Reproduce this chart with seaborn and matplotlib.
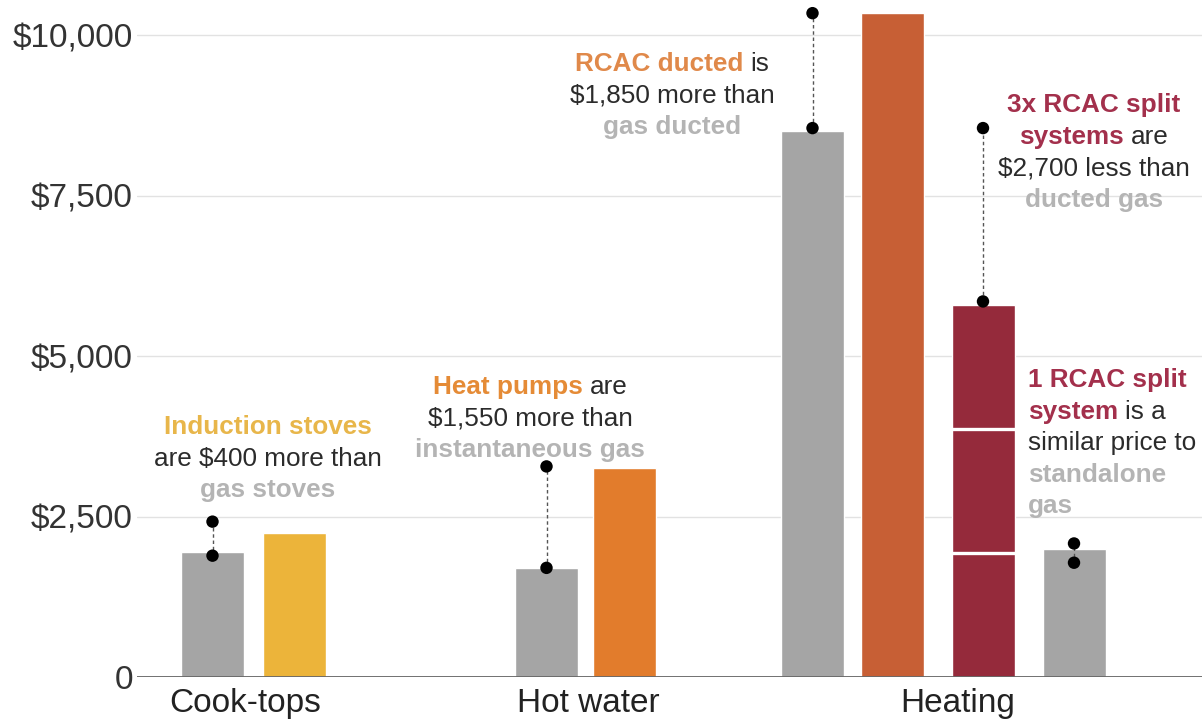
import matplotlib
matplotlib.use("Agg")
import matplotlib.pyplot as plt
from matplotlib.transforms import IdentityTransform
import pandas as pd
import seaborn as sns

# ── Data ──────────────────────────────────────
category = ["Cook-tops", "Cook-tops", "Hot water", "Hot water",
            "Heating", "Heating", "Heating", "Heating"]
technology = ["Gas stove", "Induction stove", "Instantaneous gas", "Heat pump",
              "Ducted gas", "RCAC ducted", "3x RCAC split", "Standalone gas"]
cost = [1950, 2250, 1700, 3250, 8500, 10340, 5800, 2000]

# dotted "difference" markers
range_tech = ["Gas stove", "Instantaneous gas", "Ducted gas", "3x RCAC split", "Standalone gas"]
range_low = [1890, 1700, 8550, 5850, 1780]
range_high = [2420, 3280, 10340, 8550, 2080]

split_tech = "3x RCAC split"
split_units = 3

y_ticks = [0, 2500, 5000, 7500, 10000]
y_tick_labels = ["0", "$2,500", "$5,000", "$7,500", "$10,000"]
group_names = ["Cook-tops", "Hot water", "Heating"]

# annotation text: lines of (text, role)
notes = [
    [[("Induction stoves", "yellow")], [("are $400 more than", "text")], [("gas stoves", "grey")]],
    [[("Heat pumps", "orange"), ("are", "text")], [("$1,550 more than", "text")],
     [("instantaneous gas", "grey")]],
    [[("RCAC ducted", "orange2"), ("is", "text")], [("$1,850 more than", "text")],
     [("gas ducted", "grey")]],
    [[("3x RCAC split", "crimson")], [("systems", "crimson"), ("are", "text")],
     [("$2,700 less than", "text")], [("ducted gas", "grey")]],
    [[("1 RCAC split", "crimson")], [("system", "crimson"), ("is a", "text")],
     [("similar price to", "text")], [("standalone", "grey")], [("gas", "grey")]],
]

# ── Layout / style (pixel-like x units) ──────
W, H = 1202, 726
bar_x = [212.5, 294, 546.5, 624, 812.5, 892, 983, 1074]
group_x = [245, 588, 958]
bar_px = 63
px_per_dollar = 0.0642
note_pos = [(268, 425, "center"), (530, 385, "center"), (672, 62, "center"),
            (1094, 103, "center"), (1028, 378, "left")]
line_px = 31.6

bar_colors = {
    "Gas stove": "#a5a5a5", "Induction stove": "#ecb43a",
    "Instantaneous gas": "#a5a5a5", "Heat pump": "#e27c2c",
    "Ducted gas": "#a5a5a5", "RCAC ducted": "#c75f35",
    "3x RCAC split": "#952a3b", "Standalone gas": "#a5a5a5",
}
role_colors = {"yellow": "#e8b64a", "orange": "#e58b36", "orange2": "#e0894a",
               "crimson": "#a3304c", "grey": "#b4b4b4", "text": "#2b2b2b"}

sns.set_theme(style="white")
plt.rcParams["font.family"] = ["Liberation Sans", "DejaVu Sans"]

df = pd.DataFrame({"category": category, "technology": technology,
                   "cost": cost, "x": bar_x})

fig = plt.figure(figsize=(W / 100, H / 100), dpi=100)
ax = fig.add_axes([137 / W, 49 / H, (W - 137) / W, 677 / H])

min_gap = min(b - a for a, b in zip(sorted(bar_x), sorted(bar_x)[1:]))
sns.barplot(data=df, x="x", y="cost", hue="technology", palette=bar_colors,
            native_scale=True, width=bar_px / min_gap, errorbar=None,
            saturation=1, dodge=False, legend=False, ax=ax, zorder=2)

# white separators on the split-system bar
split_cost = df.loc[df.technology == split_tech, "cost"].iloc[0]
for p in ax.patches:
    if abs(p.get_height() - split_cost) < 1e-6:
        for k in range(1, split_units):
            ax.hlines(split_cost * k / split_units, p.get_x(), p.get_x() + p.get_width(),
                      colors="white", lw=2.4, zorder=3)

# difference markers
xmap = dict(zip(technology, bar_x))
rx = [xmap[t] for t in range_tech]
ax.vlines(rx, range_low, range_high, colors="#555555", lw=1,
          linestyles=(0, (2.5, 2)), zorder=4)
dots = pd.DataFrame({"x": rx + rx, "y": range_low + range_high})
sns.scatterplot(data=dots, x="x", y="y", color="black", s=80, edgecolor="none",
                ax=ax, zorder=5)

# axes styling
ax.set_xlim(137, W)
ax.set_ylim(0, 677 / px_per_dollar)
ax.set_yticks(y_ticks, y_tick_labels)
ax.set_xticks(group_x, group_names)
ax.set_xlabel("")
ax.set_ylabel("")
ax.tick_params(axis="y", length=0, pad=3, labelsize=24, labelcolor="#333333")
ax.tick_params(axis="x", length=0, pad=8, labelsize=24, labelcolor="#222222")
ax.yaxis.grid(True, color="#e2e2e2", lw=1)
ax.set_axisbelow(True)
ax.axhline(0, color="#666666", lw=1.3, zorder=3)
for s in ax.spines.values():
    s.set_visible(False)

# ── Annotations with mixed colours ────────────
renderer = fig.canvas.get_renderer()


def measure(s, weight):
    t = ax.text(0, 0, s, transform=IdentityTransform(), fontsize=18.8, fontweight=weight)
    w = t.get_window_extent(renderer).width
    t.remove()
    return w


space_w = measure("x x", "normal") - measure("xx", "normal")

for lines, (x0, y0, ha) in zip(notes, note_pos):
    for i, parts in enumerate(lines):
        base = H - (y0 + i * line_px + 9)
        texts = []
        for s, role in parts:
            texts.append(ax.text(0, 0, s, transform=IdentityTransform(), fontsize=18.8,
                                 color=role_colors[role], va="baseline", ha="left",
                                 fontweight="normal" if role == "text" else "bold"))
        widths = [t.get_window_extent(renderer).width for t in texts]
        total = sum(widths) + space_w * (len(texts) - 1)
        start = x0 - total / 2 if ha == "center" else x0
        for t, w in zip(texts, widths):
            t.set_position((start, base))
            start += w + space_w

fig.savefig("out.png", dpi=100)
